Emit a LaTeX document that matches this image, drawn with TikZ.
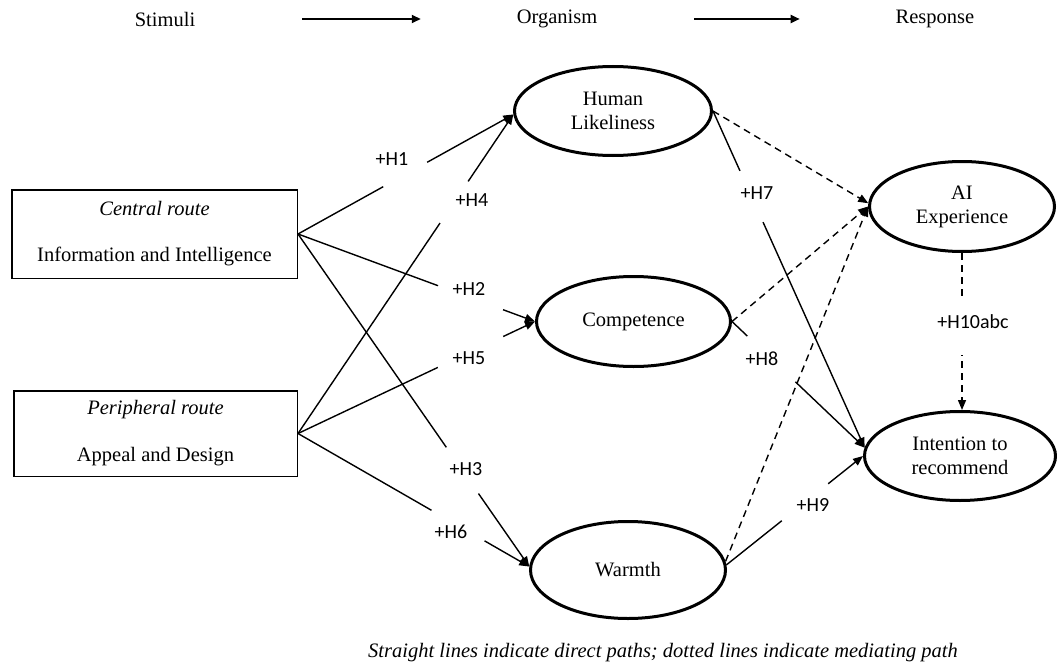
\documentclass[tikz,border=0pt]{standalone}
\usepackage{fontspec}
\setmainfont{Liberation Serif}
\newfontfamily\labfont{Carlito}
\usetikzlibrary{arrows.meta,shapes.geometric}
\begin{document}
\begin{tikzpicture}[x=1pt,y=-1pt,
  every node/.style={font=\fontsize{20.5}{24}\selectfont},
  heading/.style={inner sep=0pt, outer sep=0pt},
  flow/.style={line width=2pt, -{Triangle[length=9pt,width=8pt]}},
  route/.style={draw, line width=1.5pt, rectangle, align=center, inner sep=0pt},
  construct/.style={draw, ellipse, line width=3pt, align=center, inner sep=0pt},
  direct/.style={line width=1.4pt, -{Triangle[length=10pt,width=8pt]}},
  mediated/.style={direct, dash pattern=on 7pt off 5pt},
  gap/.style={sloped, fill=white, inner sep=0pt, minimum height=6pt},
  hyp/.style={font=\labfont\fontsize{20}{24}\selectfont, inner sep=0pt}]
\useasboundingbox (0,0) rectangle (1057,666);

% S-O-R heading
\node[heading] (stim) at (165,19) {Stimuli};
\node[heading] (org)  at (557,19) {Organism};
\node[heading] (resp) at (935,19) {Response};
\draw[flow, shorten <=107pt, shorten >=96pt] (stim.east) -- (org.west);
\draw[flow, shorten <=97pt, shorten >=96pt] (org.east) -- (resp.west);

% stimuli
\node[route, minimum width=285.5pt, minimum height=88.5pt] (ci) at (154.5,234)
  {\textit{Central route}\\[22pt]Information and Intelligence};
\node[route, minimum width=283.5pt, minimum height=85.5pt] (cp) at (155.5,433.5)
  {\textit{Peripheral route}\\[23pt]Appeal and Design};

% organism
\node[construct, minimum width=197pt, minimum height=89pt] (hl) at (613,111) {Human\\Likeliness};
\node[construct, minimum width=194pt, minimum height=90pt] (co) at (633.5,321.5) {Competence};
\node[construct, minimum width=195pt, minimum height=97pt] (wa) at (628,570) {Warmth};

% response
\node[construct, minimum width=185pt, minimum height=90pt] (ai) at (962,206.5) {AI\\Experience};
\node[construct, minimum width=191pt, minimum height=89pt] (it) at (960,456) {Intention to\\recommend};

% direct paths
\draw[direct] (ci.east) -- node[gap, pos=0.498, minimum width=50pt] (g1) {} (hl.182);
\draw[direct] (cp.east) -- node[gap, pos=0.725, minimum width=50pt] (g4) {} (hl.182);
\draw[direct] (ci.east) -- node[gap, pos=0.728, minimum width=69pt] (g2) {} (co.west);
\draw[direct] (cp.east) -- node[gap, pos=0.728, minimum width=72pt] (g5) {} (co.west);
\draw[direct] (ci.east) -- node[gap, pos=0.711, minimum width=56pt] (g3) {} (wa.178);
\draw[direct] (cp.east) -- node[gap, pos=0.692, minimum width=61pt] (g6) {} (wa.178);
\draw[direct] (hl.east) -- node[gap, pos=0.254, minimum width=56pt] (g7) {} (it.175);
\draw[direct] (co.east) -- node[gap, pos=0.297, minimum width=66pt] (g8) {} (it.175);
\draw[direct] (wa.3) -- node[gap, pos=0.575, minimum width=59pt] (g9) {} (it.west);

% mediating paths
\draw[mediated] (hl.east) -- (ai.178);
\draw[mediated] (co.east) -- (ai.west);
\draw[mediated] (wa.5) -- (ai.west);
\draw[mediated] (ai.south) -- node[gap, pos=0.475, minimum width=55pt] (g10) {} (ai.south |- it.north);

% hypothesis labels
\node[hyp] (h1) at (392,159) {+H1};
\node[hyp] (h4) at (472,200) {+H4};
\node[hyp] (h2) at (469,289) {+H2};
\node[hyp] (h5) at (469,358) {+H5};
\node[hyp] (h3) at (466,469) {+H3};
\node[hyp] (h6) at (451,532) {+H6};
\node[hyp] (h7) at (757,193) {+H7};
\node[hyp] (h8) at (762,359) {+H8};
\node[hyp] (h9) at (813,505) {+H9};
\node[hyp] (h10) at (973,322) {+H10abc};

% legend
\node (note) at (663,653) {\textit{Straight lines indicate direct paths; dotted lines indicate mediating path}};
\end{tikzpicture}
\end{document}
